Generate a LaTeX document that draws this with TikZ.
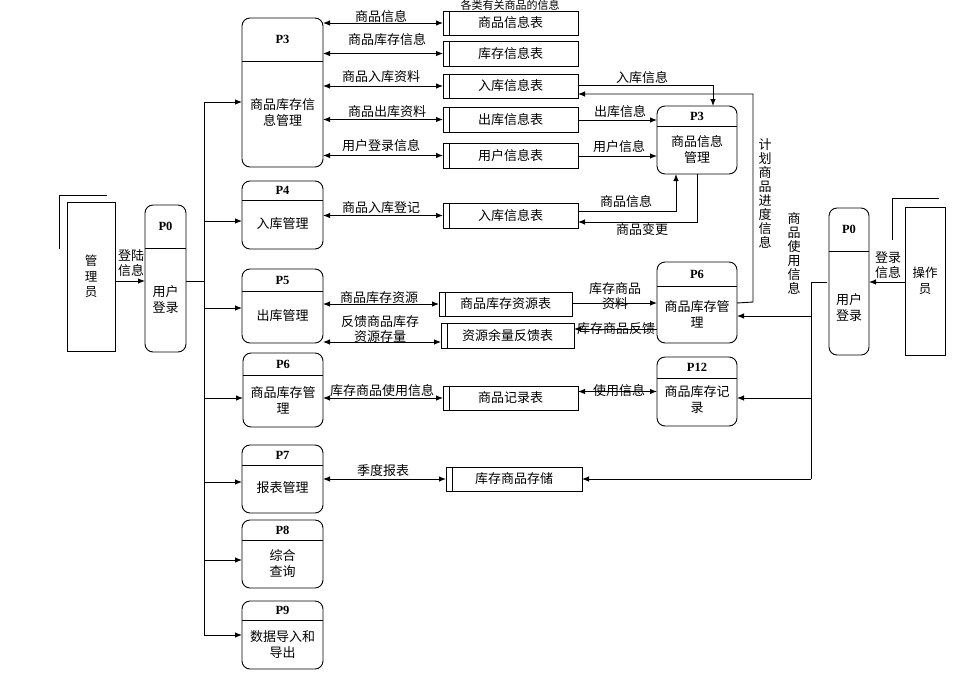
\documentclass[tikz,border=0pt]{standalone}
\usepackage{fontspec}
\setmainfont{Liberation Serif}
\newfontfamily\cjk{Noto Sans CJK SC}
\usetikzlibrary{arrows.meta}
\tikzset{
  x=1pt,y=-1pt,
  line/.style={draw=black,line width=0.9pt},
  arr/.style={line,-{Latex[length=7pt,width=5.5pt]}},
  dbl/.style={line,{Latex[length=7pt,width=5.5pt]}-{Latex[length=7pt,width=5.5pt]}},
  procn/.style={draw=black,line width=0.9pt,rounded corners=8pt,inner sep=0pt,outer sep=0pt},
  storen/.style={draw=black,line width=1pt,inner sep=0pt,outer sep=0pt,font=\cjk\fontsize{13pt}{14pt}\selectfont},
  extn/.style={draw=black,line width=0.9pt,inner sep=0pt,outer sep=0pt,align=center,font=\cjk\fontsize{12.5pt}{15.5pt}\selectfont},
  lab/.style={inner sep=0pt,align=center,font=\cjk\fontsize{13pt}{15pt}\selectfont},
  vlab/.style={inner sep=0pt,align=center,font=\cjk\fontsize{13pt}{14pt}\selectfont},
  ttl/.style={inner sep=0pt,font=\bfseries\fontsize{12.5pt}{14pt}\selectfont},
  body/.style={inner sep=0pt,align=center,font=\cjk\fontsize{13pt}{16pt}\selectfont},
}
% name, x1, y1, x2, y2, ydiv, title, body-y, body
\newcommand\procbox[9]{%
  \pgfmathsetmacro\pcx{(#2+#4)/2}\pgfmathsetmacro\pcy{(#3+#5)/2}%
  \pgfmathsetmacro\pw{#4-#2}\pgfmathsetmacro\ph{#5-#3}%
  \pgfmathsetmacro\pty{(#3+#6)/2}%
  \node[procn,minimum width=\pw pt,minimum height=\ph pt] (#1) at (\pcx,\pcy) {};
  \draw[line] (#2,#6) -- (#4,#6);
  \node[ttl] (#1-t) at (\pcx,\pty) {#7};
  \node[body] (#1-b) at (\pcx,#8) {#9};
}
% name, x1, y1, x2, y2, text
\newcommand\storebox[6]{%
  \pgfmathsetmacro\pcx{(#2+#4)/2}\pgfmathsetmacro\pcy{(#3+#5)/2}%
  \pgfmathsetmacro\pw{#4-#2}\pgfmathsetmacro\ph{#5-#3}%
  \node[storen,minimum width=\pw pt,minimum height=\ph pt] (#1) at (\pcx,\pcy) {#6};
  \draw[line] ([xshift=6.5pt]#1.north west) -- ([xshift=6.5pt]#1.south west);
}
\begin{document}
\begin{tikzpicture}
\useasboundingbox (0,0) rectangle (979,683);
% processes
\procbox{pa}{242}{18}{323}{167}{61}{P3}{113}{商品库存信\\息管理}
\procbox{pb}{242}{181}{323}{249}{200}{P4}{224}{入库管理}
\procbox{pc}{242}{269}{323}{343}{291}{P5}{316}{出库管理}
\procbox{pd}{243}{353}{323}{427}{375}{P6}{400}{商品库存管\\理}
\procbox{pe}{242}{445}{323}{513}{465}{P7}{488}{报表管理}
\procbox{pf}{242}{520}{323}{588}{540}{P8}{564}{综合\\查询}
\procbox{pg}{242}{601}{323}{669}{620}{P9}{645}{数据导入和\\导出}
\procbox{zl}{145}{205}{186}{352}{248}{P0}{300}{用户\\登录}
\procbox{zr}{829}{208}{869}{355}{251}{P0}{308}{用户\\登录}
\procbox{qa}{657}{106}{737}{174}{126}{P3}{149}{商品信息\\管理}
\procbox{qb}{657}{262}{737}{343}{286}{P6}{314}{商品库存管\\理}
\procbox{qc}{657}{357}{737}{426}{378}{P12}{400}{商品库存记\\录}
% external entities
\node[extn,minimum width=48pt,minimum height=149pt] (admin) at (91,276.5) {管\\理\\员};
\draw[line] (59,249) -- (59,195) -- (107,195);
\node[extn,minimum width=40pt,minimum height=148pt] (oper) at (925,281) {操作\\员};
\draw[line] (892,240) -- (892,198) -- (939,198);
% data stores
\storebox{sa}{443}{11}{578}{35}{商品信息表}
\storebox{sb}{443}{41}{578}{66}{库存信息表}
\storebox{sc}{443}{74}{578}{98}{入库信息表}
\storebox{sd}{443}{107}{578}{132}{出库信息表}
\storebox{se}{443}{143}{578}{168}{用户信息表}
\storebox{sf}{443}{203}{578}{228}{入库信息表}
\storebox{sg}{439}{292}{572}{316}{商品库存资源表}
\storebox{sh}{441}{323}{574}{348}{资源余量反馈表}
\storebox{si}{443}{386}{578}{410}{商品记录表}
\storebox{sj}{446}{467}{582}{491}{库存商品存储}
% bus on the left
\coordinate (busl) at (204,281);
\draw[arr] (admin.east |- 0,281) -- (zl.west |- 0,281);
\draw[line] (zl.east |- 0,281) -- (busl);
\draw[line] (204,102) -- (204,635);
\foreach \t/\yy in {pa/102,pb/221,pc/308,pd/398,pe/482,pf/560,pg/635}
  \draw[arr] (204,\yy) -- (\t.west |- 0,\yy);
% process <-> store
\draw[dbl] (pa.east |- sa.west) -- (sa.west);
\draw[dbl] (pa.east |- sb.west) -- (sb.west);
\draw[dbl] (pa.east |- sc.west) -- (sc.west);
\draw[dbl] (pa.east |- sd.west) -- (sd.west);
\draw[dbl] (pa.east |- se.west) -- (se.west);
\draw[dbl] (pb.east |- sf.west) -- (sf.west);
\draw[dbl] (pc.east |- sg.west) -- (sg.west);
\draw[dbl] (pc.east |- 0,342) -- (sh.west |- 0,342);
\draw[dbl] (pd.east |- si.west) -- (si.west);
\draw[dbl] (pe.east |- sj.west) -- (sj.west);
% store -> right processes
\draw[arr] (sc.east |- 0,85) -- (713,85) -- (qa.north -| 713,0);
\draw[arr] (qb.east |- 0,303) -- (753,302) -- (753,94) -- (sc.east |- 0,94);
\draw[arr] (sd.east |- 0,120) -- (qa.west |- 0,120);
\draw[arr] (se.east |- 0,156) -- (qa.west |- 0,156);
\draw[arr] (sf.east |- 0,211) -- (676,211) -- (qa.south -| 676,0);
\draw[arr] (qa.south -| 697,0) -- (697,222) -- (sf.east |- 0,222);
\draw[arr] (sg.east |- 0,303) -- (qb.west |- 0,303);
\draw[arr] (qb.west |- 0,329) -- (sh.east |- 0,329);
\draw[dbl] (si.east |- qc.west) -- (qc.west);
% right side
\draw[arr] (oper.west |- 0,282) -- (zr.east |- 0,282);
\draw[line] (827,282) -- (811,282) -- (811,479);
\draw[arr] (811,479) -- (sj.east |- 0,479);
\draw[arr] (811,316) -- (qb.east |- 0,316);
\draw[arr] (811,398) -- (qc.east |- 0,398);
% labels
\node[lab,font=\cjk\fontsize{11pt}{11pt}\selectfont] (l0) at (510,5) {各类有关商品的信息};
\node[lab] (l1) at (381,17) {商品信息};
\node[lab] (l2) at (387,40) {商品库存信息};
\node[lab] (l3) at (381,77) {商品入库资料};
\node[lab] (l4) at (387,112) {商品出库资料};
\node[lab] (l5) at (381,146) {用户登录信息};
\node[lab] (l6) at (381,208) {商品入库登记};
\node[lab] (l7) at (379,298) {商品库存资源};
\node[lab] (l8) at (380,329) {反馈商品库存\\资源存量};
\node[lab] (l9) at (382,391) {库存商品使用信息};
\node[lab] (l10) at (383,471) {季度报表};
\node[lab] (l11) at (642,78) {入库信息};
\node[lab] (l12) at (620,112) {出库信息};
\node[lab] (l13) at (619,147) {用户信息};
\node[lab] (l14) at (626,202) {商品信息};
\node[lab] (l15) at (642,230) {商品变更};
\node[lab] (l16) at (615,296.5) {库存商品\\资料};
\node[lab] (l17) at (616,329) {库存商品反馈};
\node[lab] (l18) at (619,391) {使用信息};
\node[lab] (l19) at (131,263.5) {登陆\\信息};
\node[lab] (l20) at (888,265.5) {登录\\信息};
\node[vlab] (l21) at (765,193) {计\\划\\商\\品\\进\\度\\信\\息};
\node[vlab] (l22) at (794,253.5) {商\\品\\使\\用\\信\\息};
\end{tikzpicture}
\end{document}
